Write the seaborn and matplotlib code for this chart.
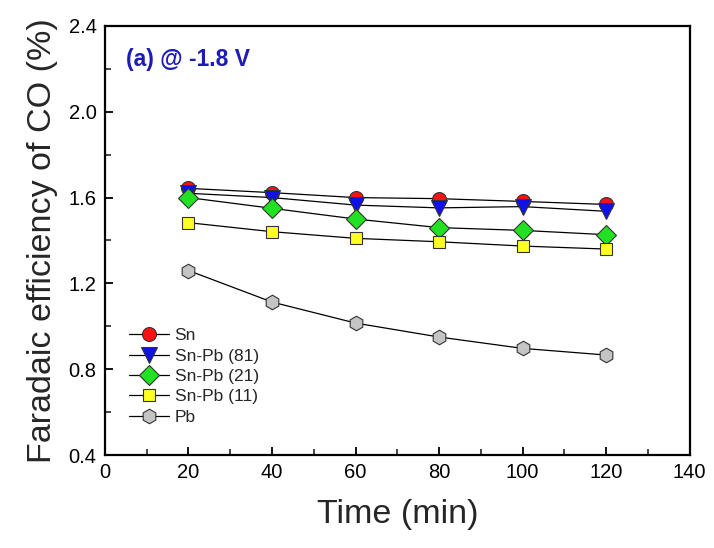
import matplotlib
matplotlib.use("Agg")
import matplotlib.pyplot as plt
import seaborn as sns
import pandas as pd
from matplotlib.ticker import MultipleLocator

time_min = [20, 40, 60, 80, 100, 120]
sn = [1.643, 1.623, 1.600, 1.595, 1.582, 1.568]
snpb81 = [1.62, 1.60, 1.565, 1.552, 1.558, 1.536]
snpb21 = [1.60, 1.55, 1.50, 1.46, 1.447, 1.427]
snpb11 = [1.483, 1.441, 1.41, 1.394, 1.374, 1.36]
pb = [1.26, 1.113, 1.015, 0.95, 0.897, 0.866]

series_names = ["Sn", "Sn-Pb (81)", "Sn-Pb (21)", "Sn-Pb (11)", "Pb"]
series_values = [sn, snpb81, snpb21, snpb11, pb]
face_colors = ["#ff1010", "#1010e8", "#22e022", "#ffff22", "#c4c4c4"]
marker_shapes = ["o", "v", "D", "s", "h"]
marker_sizes = [10, 11, 10, 8.5, 10.5]

sns.set_style("ticks")
plt.rcParams["font.family"] = ["Liberation Sans", "DejaVu Sans"]

fig = plt.figure(figsize=(7.14, 5.48), dpi=100)
ax = fig.add_axes([0.147, 0.1697, 0.819, 0.7829])

for name, vals, fc, mk, ms in zip(series_names, series_values, face_colors, marker_shapes, marker_sizes):
    df = pd.DataFrame({"Time": time_min, "FE": vals})
    sns.lineplot(data=df, x="Time", y="FE", ax=ax, color="black", linewidth=0.9,
                 marker=mk, markersize=ms, markerfacecolor=fc,
                 markeredgecolor="#333333", markeredgewidth=0.8, label=name)

ax.set_xlim(0, 140)
ax.set_ylim(0.4, 2.4)
ax.xaxis.set_major_locator(MultipleLocator(20))
ax.xaxis.set_minor_locator(MultipleLocator(10))
ax.yaxis.set_major_locator(MultipleLocator(0.4))
ax.yaxis.set_minor_locator(MultipleLocator(0.2))
ax.yaxis.set_major_formatter(matplotlib.ticker.FormatStrFormatter("%.1f"))
ax.tick_params(which="major", direction="in", length=6, width=1.3, labelsize=14.5, colors="black", pad=6)
ax.tick_params(which="minor", direction="in", length=4, width=1.2)
ax.tick_params(top=False, right=False, which="both")
for s in ax.spines.values():
    s.set_linewidth(1.6)
    s.set_color("black")

ax.set_xlabel("Time (min)", fontsize=24.5, labelpad=12)
ax.set_ylabel("Faradaic efficiency of CO (%)", fontsize=24.5, labelpad=8)

ax.text(0.036, 0.923, "(a) @ -1.8 V", transform=ax.transAxes, fontsize=16.5,
        fontweight="bold", color="#1c1cb4", va="center", ha="left")

leg = ax.legend(loc="upper left", bbox_to_anchor=(0.03, 0.312), frameon=False,
                fontsize=12.5, handlelength=2.3, labelspacing=0.3, handletextpad=0.3,
                borderaxespad=0)

fig.savefig("out.png", dpi=100)
